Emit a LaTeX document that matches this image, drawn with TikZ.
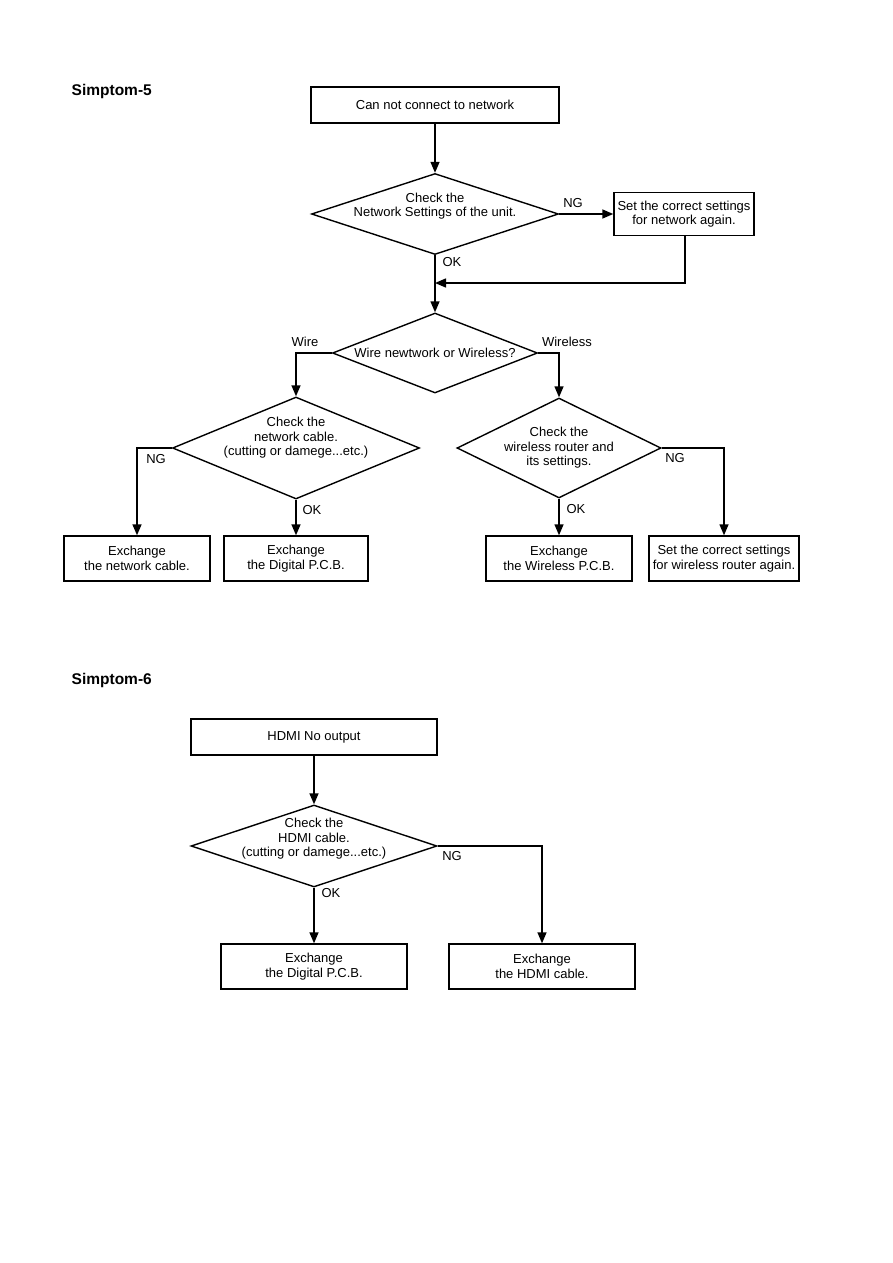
\documentclass[tikz,border=0pt]{standalone}
\usepackage{fontspec}
\setmainfont{Liberation Sans}
\usetikzlibrary{shapes.geometric,arrows.meta,calc}
\begin{document}
\begin{tikzpicture}[x=1pt,y=-1pt,
  line width=1.4pt,
  every node/.style={font=\fontsize{13}{14.5}\selectfont},
  box/.style={draw,line width=1.4pt,inner sep=0pt,align=center},
  dia/.style={draw,diamond,line width=1.4pt,inner sep=0pt},
  txt/.style={align=center,inner sep=0pt},
  lbl/.style={inner sep=0pt},
  title/.style={font=\fontsize{15.5}{17}\selectfont\bfseries,anchor=base west,inner sep=0pt},
  arr/.style={line width=1.4pt,-{Triangle[length=11pt,width=9pt]}},
]
\useasboundingbox (0,0) rectangle (893,1263);

% ---------------- Simptom-5 ----------------
\node[title] (t5) at (71,95) {Simptom-5};

\node[box,minimum width=248pt,minimum height=36pt] (b1) at (435,105) {Can not connect to network};

\node[dia,minimum width=247pt,minimum height=81pt] (d1) at (435,214) {};
\node[txt] (d1t) at ([yshift=8pt]d1.center) {Check the\\Network Settings of the unit.};

\node[box,minimum width=140pt,minimum height=43pt] (b2) at (684,214) {Set the correct settings\\for network again.};

\coordinate (j1) at (435,283);
\coordinate (r1) at (685,283);

\node[dia,minimum width=205pt,minimum height=80pt] (d2) at (435,353) {};
\node[txt] (d2t) at (d2.center) {Wire newtwork or Wireless?};

\node[dia,minimum width=247pt,minimum height=102pt] (d3) at (296,448) {};
\node[txt] (d3t) at ([yshift=10pt]d3.center) {Check the\\network cable.\\(cutting or damege...etc.)};

\node[dia,minimum width=204pt,minimum height=100pt] (d4) at (559,448) {};
\node[txt] (d4t) at (d4.center) {Check the\\wireless router and\\its settings.};

\node[box,minimum width=146pt,minimum height=45pt] (b3) at (137,558.5) {Exchange\\the network cable.};
\node[box,minimum width=144pt,minimum height=45pt] (b4) at (296,558.5) {Exchange\\the Digital P.C.B.};
\node[box,minimum width=146pt,minimum height=45pt] (b5) at (559,558.5) {Exchange\\the Wireless P.C.B.};
\node[box,minimum width=150pt,minimum height=45pt] (b6) at (724,558.5) {Set the correct settings\\for wireless router again.};

\draw[arr] (b1.south) -- (d1.north);
\draw[arr] (d1.east) -- (b2.west);
\draw[arr] (b2.south -| r1) -- (r1) -- (j1);
\draw[arr] (d1.south) -- (d2.north);
\draw[arr] (d2.west) -| (d3.north);
\draw[arr] (d2.east) -| (d4.north);
\draw[arr] (d3.west) -| (b3.north);
\draw[arr] (d3.south) -- (b4.north);
\draw[arr] (d4.south) -- (b5.north);
\draw[arr] (d4.east) -| (b6.north);

\node[lbl] (l1) at (573,203) {NG};
\node[lbl] (l2) at (452,262) {OK};
\node[lbl] (l3) at (305,342) {Wire};
\node[lbl] (l4) at (567,342) {Wireless};
\node[lbl] (l5) at (156,459) {NG};
\node[lbl] (l6) at (312,510) {OK};
\node[lbl] (l7) at (576,509) {OK};
\node[lbl] (l8) at (675,458) {NG};

% ---------------- Simptom-6 ----------------
\node[title] (t6) at (71,684) {Simptom-6};

\node[box,minimum width=246pt,minimum height=36pt] (h1) at (314,737) {HDMI No output};
\node[dia,minimum width=246pt,minimum height=82pt] (h2) at (314,846) {};
\node[txt] (h2t) at ([yshift=7pt]h2.center) {Check the\\HDMI cable.\\(cutting or damege...etc.)};
\node[box,minimum width=186pt,minimum height=45pt] (h3) at (314,966.5) {Exchange\\the Digital P.C.B.};
\node[box,minimum width=186pt,minimum height=45pt] (h4) at (542,966.5) {Exchange\\the HDMI cable.};

\draw[arr] (h1.south) -- (h2.north);
\draw[arr] (h2.south) -- (h3.north);
\draw[arr] (h2.east) -| (h4.north);

\node[lbl] (l9) at (452,856) {NG};
\node[lbl] (l10) at (331,893) {OK};
\end{tikzpicture}
\end{document}
